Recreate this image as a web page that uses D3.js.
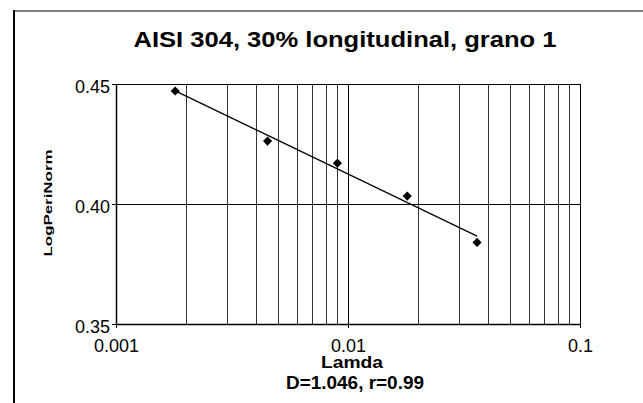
<!DOCTYPE html>
<html>
<head>
<meta charset="utf-8">
<script src="https://cdn.jsdelivr.net/npm/d3@7"></script>
<style>
  body { margin: 0; background: #fff; }
  svg { display: block; font-family: "Liberation Sans", Arial, sans-serif; }
</style>
</head>
<body>
<svg id="chart" width="643" height="403"></svg>
<script>
// data
const lamda = [0.0018, 0.0045, 0.009, 0.018, 0.036];
const logPeriNorm = [0.4471, 0.4262, 0.4170, 0.4033, 0.3840];
const xTicks = [0.001, 0.01, 0.1];
const xTickLabels = ["0.001", "0.01", "0.1"];
const yTicks = [0.35, 0.40, 0.45];
const yTickLabels = ["0.35", "0.40", "0.45"];

const svg = d3.select("#chart");
const plot = {left: 116, right: 580, top: 84, bottom: 324};

const x = d3.scaleLog().domain([0.001, 0.1]).range([plot.left, plot.right]);
const y = d3.scaleLinear().domain([0.35, 0.45]).range([plot.bottom, plot.top]);

// frame of the chart area
svg.append("line").attr("x1", 13).attr("x2", 643).attr("y1", 11).attr("y2", 11)
    .attr("stroke", "#808080").attr("stroke-width", 2);
svg.append("line").attr("x1", 14).attr("x2", 14).attr("y1", 10).attr("y2", 403)
    .attr("stroke", "#000").attr("stroke-width", 2);

// title
svg.append("text")
    .attr("x", 345).attr("y", 47)
    .attr("text-anchor", "middle")
    .attr("font-weight", "bold").attr("font-size", 21.5)
    .attr("textLength", 423).attr("lengthAdjust", "spacingAndGlyphs")
    .text("AISI 304, 30% longitudinal, grano 1");

// vertical grid, every log step
const grid = svg.append("g").attr("shape-rendering", "crispEdges");
grid.selectAll(".vg")
    .data(x.ticks())
    .enter().append("line")
    .attr("x1", d => Math.round(x(d)) + 0.5)
    .attr("x2", d => Math.round(x(d)) + 0.5)
    .attr("y1", plot.top).attr("y2", plot.bottom)
    .attr("stroke", d => xTicks.includes(d) ? "#000" : "#333")
    .attr("stroke-width", 1);

grid.selectAll(".hg")
    .data(yTicks)
    .enter().append("line")
    .attr("x1", plot.left).attr("x2", plot.right)
    .attr("y1", d => Math.round(y(d)) + 0.5)
    .attr("y2", d => Math.round(y(d)) + 0.5)
    .attr("stroke", "#000").attr("stroke-width", 1);

// axes
const xAxis = svg.append("g")
    .attr("transform", "translate(0," + plot.bottom + ")")
    .call(d3.axisBottom(x).tickValues(xTicks).tickSize(4).tickSizeOuter(0)
        .tickFormat((d, i) => xTickLabels[i]));
const yAxis = svg.append("g")
    .attr("transform", "translate(" + plot.left + ",0)")
    .call(d3.axisLeft(y).tickValues(yTicks).tickSize(4).tickSizeOuter(0)
        .tickFormat((d, i) => yTickLabels[i]));

[xAxis, yAxis].forEach(a => {
    a.select(".domain").attr("stroke", "#000").attr("stroke-width", 1.5);
    a.selectAll(".tick line").attr("stroke", "#000");
    a.selectAll("text").attr("font-family", "Liberation Sans, Arial, sans-serif")
        .attr("font-size", 18).attr("fill", "#000");
});
xAxis.selectAll("text").attr("y", 0).attr("dy", 0).attr("transform", "translate(0,28)");
yAxis.selectAll("text").attr("x", -6).attr("dy", "0.47em");

// trend line (least squares on log10 lamda)
const lx = lamda.map(Math.log10);
const mx = d3.mean(lx), my = d3.mean(logPeriNorm);
const slope = d3.sum(lx, (v, i) => (v - mx) * (logPeriNorm[i] - my)) / d3.sum(lx, v => (v - mx) * (v - mx));
const icpt = my - slope * mx;
const ends = [d3.min(lamda), d3.max(lamda)];
svg.append("line")
    .attr("x1", x(ends[0])).attr("y1", y(icpt + slope * Math.log10(ends[0])))
    .attr("x2", x(ends[1])).attr("y2", y(icpt + slope * Math.log10(ends[1])))
    .attr("stroke", "#000").attr("stroke-width", 1.2);

// markers
svg.selectAll(".pt")
    .data(lamda)
    .enter().append("path")
    .attr("d", d3.symbol(d3.symbolSquare, 42))
    .attr("transform", (d, i) => "translate(" + x(d) + "," + y(logPeriNorm[i]) + ") rotate(45)")
    .attr("fill", "#000");

// axis titles
svg.append("text")
    .attr("x", 352).attr("y", 368)
    .attr("text-anchor", "middle")
    .attr("font-weight", "bold").attr("font-size", 17)
    .attr("textLength", 62).attr("lengthAdjust", "spacingAndGlyphs")
    .text("Lamda");
svg.append("text")
    .attr("x", 355).attr("y", 389)
    .attr("text-anchor", "middle")
    .attr("font-weight", "bold").attr("font-size", 18)
    .attr("textLength", 138).attr("lengthAdjust", "spacingAndGlyphs")
    .text("D=1.046, r=0.99");
svg.append("text")
    .attr("transform", "translate(52,203) rotate(-90)")
    .attr("text-anchor", "middle")
    .attr("font-weight", "bold").attr("font-size", 11)
    .attr("textLength", 107).attr("lengthAdjust", "spacingAndGlyphs")
    .text("LogPeriNorm");
</script>
</body>
</html>
